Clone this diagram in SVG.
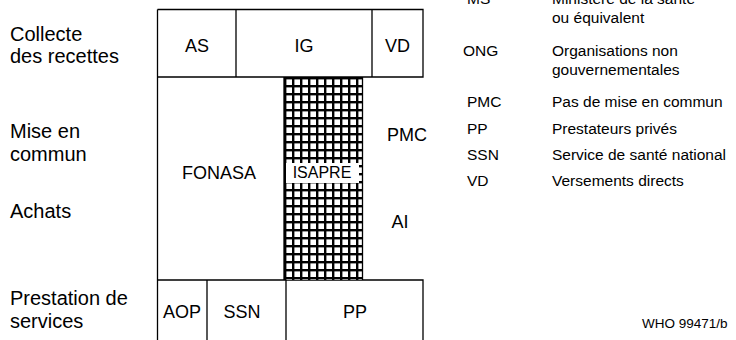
<svg xmlns="http://www.w3.org/2000/svg" width="736" height="340" viewBox="0 0 736 340">
<style>
.t{font-family:"Liberation Sans",Arial,sans-serif;fill:#000}
.row{font-size:20px}
.box{font-size:18px;text-anchor:middle}
.leg{font-size:15.5px}
.ln{stroke:#000;stroke-width:1.3;fill:none}
</style>
<defs>
<pattern id="grid" patternUnits="userSpaceOnUse" x="284" y="77" width="8" height="8">
<rect width="8" height="8" fill="#fff"/>
<rect width="2.4" height="8" fill="#000"/>
<rect width="8" height="2.4" fill="#000"/>
</pattern>
</defs>
<g id="row-labels">
<text class="t row" x="10" y="41">Collecte</text>
<text class="t row" x="10" y="63">des recettes</text>
<text class="t row" x="10" y="138">Mise en</text>
<text class="t row" x="10" y="161">commun</text>
<text class="t row" x="10" y="218">Achats</text>
<text class="t row" x="10" y="305">Prestation de</text>
<text class="t row" x="10" y="328">services</text>
</g>
<g id="connectors">
<path class="ln" d="M157.5 9.5H423V77H157.5M157.5 9.5V340M236 9.5V77M372 9.5V77"/>
<path class="ln" d="M157.5 280H423V340M207 280V340M286 280V340"/>
</g>
<g id="ISAPRE">
<rect x="284" y="77" width="79" height="203" fill="url(#grid)"/>
<path class="ln" d="M284 77V280M362.5 77V280"/>
<rect x="286" y="163" width="73" height="20" fill="#fff"/>
<text class="t" x="322" y="178" font-size="16" text-anchor="middle">ISAPRE</text>
</g>
<g id="AS"><text class="t box" x="197" y="52">AS</text></g>
<g id="IG"><text class="t box" x="304" y="52">IG</text></g>
<g id="VD"><text class="t box" x="397.5" y="52">VD</text></g>
<g id="FONASA"><text class="t box" x="219" y="179">FONASA</text></g>
<g id="PMC"><text class="t box" x="407" y="141">PMC</text></g>
<g id="AI"><text class="t box" x="400" y="228">AI</text></g>
<g id="AOP"><text class="t box" x="182" y="318">AOP</text></g>
<g id="SSN"><text class="t box" x="242" y="318">SSN</text></g>
<g id="PP"><text class="t box" x="355" y="318">PP</text></g>
<g id="legend">
<text class="t leg" x="467" y="3.5">MS</text>
<text class="t leg" x="552" y="3.5">Ministère de la santé</text>
<text class="t leg" x="552" y="23">ou équivalent</text>
<text class="t leg" x="463" y="56">ONG</text>
<text class="t leg" x="552" y="56">Organisations non</text>
<text class="t leg" x="552" y="75">gouvernementales</text>
<text class="t leg" x="467" y="107">PMC</text>
<text class="t leg" x="552" y="107">Pas de mise en commun</text>
<text class="t leg" x="467" y="134">PP</text>
<text class="t leg" x="552" y="134">Prestateurs privés</text>
<text class="t leg" x="467" y="160">SSN</text>
<text class="t leg" x="552" y="160">Service de santé national</text>
<text class="t leg" x="467" y="186">VD</text>
<text class="t leg" x="552" y="186">Versements directs</text>
</g>
<text class="t" x="642" y="328" font-size="13.5">WHO 99471/b</text>
</svg>
